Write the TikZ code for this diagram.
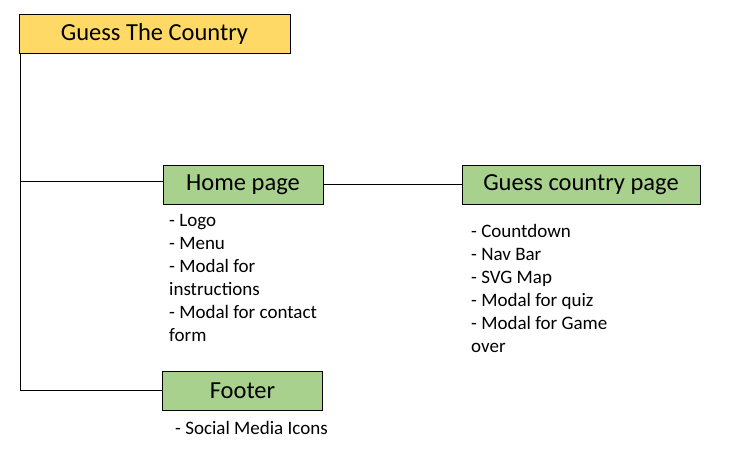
\documentclass[tikz,border=0pt]{standalone}
\usepackage{fontspec}
\setmainfont{Carlito}
\usepackage{tikz}
\usetikzlibrary{positioning}
\definecolor{titleyellow}{HTML}{FFD966}
\definecolor{pagegreen}{HTML}{A9D18E}
\tikzset{pagebox/.style = {draw, line width = 0.8pt, fill = pagegreen, inner sep = 0,
                           minimum height = 39, font = \fontsize{24.5}{28}\selectfont}}
\tikzset{titlebox/.style = {pagebox, fill = titleyellow}}
\tikzset{itemlist/.style = {anchor = north west, inner sep = 0, align = left,
                            font = \fontsize{19}{23}\selectfont}}
\tikzset{link/.style = {line width = 0.8pt}}

\begin{document}
\begin{tikzpicture}[x = 1pt, y = -1pt]
    \useasboundingbox (0, 0) rectangle (743, 450);
    \node [titlebox, minimum width = 271] (title) at (154.5, 33.5) {Guess The Country};
    \node [pagebox, minimum width = 160] (home) at (243, 184.8) {Home page};
    \node [pagebox, minimum width = 238] (guess) at (581, 184.8) {Guess country page};
    \node [pagebox, minimum width = 160] (footer) at (242.5, 390.5) {Footer};
    \node [itemlist] (homelist) at (169, 214) {- Logo\\- Menu\\- Modal for\\instructions\\- Modal for contact\\form};
    \node [itemlist] (guesslist) at (471, 224) {- Countdown\\- Nav Bar\\- SVG Map\\- Modal for quiz\\- Modal for Game\\over};
    \node [itemlist] (footerlist) at (175, 421) {- Social Media Icons};
    \coordinate (trunk) at ([xshift = 2]title.south west);
    \draw [link] (trunk) |- (footer.west);
    \draw [link] ([yshift = 3.5]home.west) -- ([yshift = 3.5]home.west -| trunk);
    \draw [link] (home) -- (guess);
\end{tikzpicture}
\end{document}
